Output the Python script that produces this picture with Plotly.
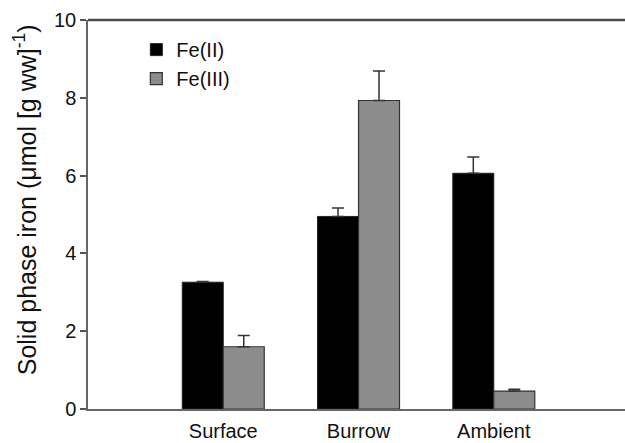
import plotly.graph_objects as go

categories = ["Surface", "Burrow", "Ambient"]
fe2_values = [3.26, 4.95, 6.06]
fe2_errors = [0.02, 0.22, 0.42]
fe3_values = [1.60, 7.93, 0.46]
fe3_errors = [0.29, 0.76, 0.05]
y_ticks = [0, 2, 4, 6, 8, 10]
y_title = "Solid phase iron (μmol [g ww]<sup>-1</sup>)"

FONT = "Liberation Sans, Arial, sans-serif"

fig = go.Figure()
fig.add_trace(go.Bar(
    x=categories, y=fe2_values, name="Fe(II)",
    marker=dict(color="#000000", line=dict(color="#222222", width=1)),
    error_y=dict(type="data", symmetric=False, array=fe2_errors,
                 arrayminus=[0] * len(fe2_errors), color="#333333",
                 thickness=1.5, width=6),
))
fig.add_trace(go.Bar(
    x=categories, y=fe3_values, name="Fe(III)",
    marker=dict(color="#8c8c8c", line=dict(color="#333333", width=1.2)),
    error_y=dict(type="data", symmetric=False, array=fe3_errors,
                 arrayminus=[0] * len(fe3_errors), color="#333333",
                 thickness=1.5, width=6),
))

fig.update_layout(
    width=625, height=443,
    margin=dict(l=88, r=0, t=20, b=34),
    paper_bgcolor="white", plot_bgcolor="white",
    barmode="group", bargap=0.394, bargroupgap=0,
    font=dict(family=FONT, size=20, color="#111111"),
    showlegend=True,
    legend=dict(x=0.09, y=0.974, xanchor="left", yanchor="top",
                bgcolor="rgba(0,0,0,0)", font=dict(size=20),
                tracegroupgap=0),
    xaxis=dict(range=[-1, 2.97], showline=True, linecolor="#666666",
               linewidth=1.5, ticks="", showgrid=False, zeroline=False,
               automargin=False, tickfont=dict(size=20),
               ticklabelstandoff=3),
    yaxis=dict(range=[0, 10], tickvals=y_ticks, showline=True,
               linecolor="#666666", linewidth=1.5, ticks="outside",
               ticklen=6, tickcolor="#555555", tickwidth=1.5,
               showgrid=False, zeroline=False, automargin=False,
               tickfont=dict(size=20), ticklabelstandoff=0),
    shapes=[dict(type="line", xref="paper", yref="paper", x0=0, x1=1,
                 y0=1, y1=1, line=dict(color="#4a4a4a", width=2.5))],
    annotations=[dict(text=y_title, textangle=-90, xref="paper",
                      yref="paper", x=-0.117, y=0.537, xanchor="center",
                      yanchor="middle", showarrow=False,
                      font=dict(size=25, color="#111111"))],
)

fig.write_html("out.html")
